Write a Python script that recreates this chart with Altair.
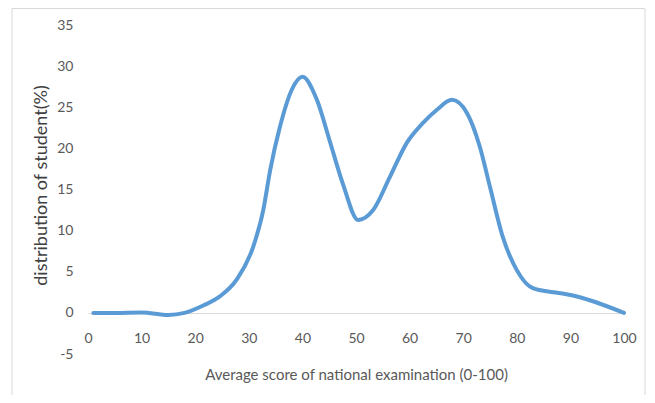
import altair as alt
import pandas as pd

# Average score of national examination (0-100)
scores = [1, 5, 10, 15, 18, 21.5, 24.6, 27.8, 30.8, 32.7, 34, 35.8, 38, 40, 42.7, 45.1,
          47.6, 50.4, 53.2, 56.3, 59.5, 62.5, 65.1, 67.9, 70.7, 73.1, 75, 77.4, 80, 83,
          86.8, 89, 100]
# distribution of student (%)
distribution = [0, 0, 0.05, -0.25, 0, 0.9, 2.0, 4.1, 8.0, 12.5, 17.4, 22.6, 27.1, 28.7, 25.9, 20.9,
                15.6, 11.3, 12.5, 16.5, 20.7, 23.1, 24.7, 25.9, 24.3, 20.2, 15.3, 9.2, 5.2, 3.0,
                2.5, 2.3, 0]

x_ticks = [0, 10, 20, 30, 40, 50, 60, 70, 80, 90, 100]
y_ticks = [-5, 0, 5, 10, 15, 20, 25, 30, 35]

df = pd.DataFrame({"score": scores, "dist": distribution})

FONT = "Lato"
GREY = "#595959"

x_enc = alt.X(
    "score:Q",
    scale=alt.Scale(domain=[0, 100], nice=False, zero=False),
    axis=alt.Axis(
        values=x_ticks,
        offset=-41,
        grid=False,
        ticks=False,
        labelFlush=False,
        domainColor="#d9d9d9",
        domainWidth=1,
        labelPadding=18,
        labelFont=FONT,
        labelFontSize=14,
        labelColor=GREY,
        title="Average score of national examination (0-100)",
        titleFont=FONT,
        titleFontSize=15,
        titleFontWeight="normal",
        titleColor=GREY,
        titleY=61,
        titleBaseline="middle",
    ),
)
y_enc = alt.Y(
    "dist:Q",
    scale=alt.Scale(domain=[-5, 35], nice=False),
    axis=alt.Axis(
        values=y_ticks,
        grid=False,
        ticks=False,
        domain=False,
        labelFlush=False,
        labelExpr="replace(datum.label, '−', '-')",
        labelPadding=15,
        labelFont=FONT,
        labelFontSize=14,
        labelColor=GREY,
        title="distribution of student(%)",
        titleFont=FONT,
        titleFontSize=18,
        titleFontWeight="normal",
        titleColor="#404040",
        titleAngle=270,
        titleAlign="center",
        titleBaseline="middle",
        titleX=-47,
        titleY=160,
    ),
)

line = alt.Chart(df).mark_line(
    color="#5b9bd5", strokeWidth=4, interpolate="monotone", strokeCap="round"
).encode(x=x_enc, y=y_enc, order="score:Q")

border = alt.Chart(pd.DataFrame({"k": [0]})).mark_rect(
    fill="transparent", stroke="#d9d9d9", strokeWidth=1
).encode(
    x=alt.value(-76), x2=alt.value(557), y=alt.value(-16.5), y2=alt.value(400)
)

chart = alt.layer(border, line).properties(
    width=536,
    height=329,
    autosize=alt.AutoSizeParams(type="none"),
    padding={"left": 80, "top": 17, "right": 23, "bottom": 41},
).configure_view(stroke=None)

chart.save("out.html", embed_options={"renderer": "svg", "actions": False})
